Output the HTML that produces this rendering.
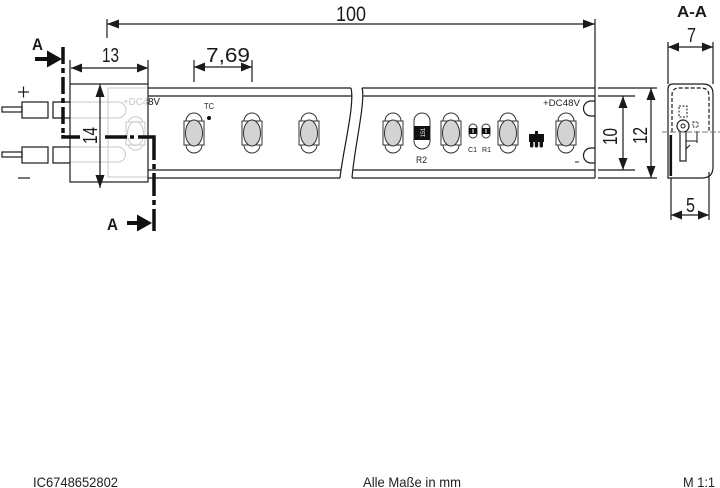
<!DOCTYPE html>
<html><head><meta charset="utf-8"><style>
html,body{margin:0;padding:0;background:#fff;}
svg{display:block;}
</style></head><body>
<svg width="720" height="488" viewBox="0 0 720 488" xmlns="http://www.w3.org/2000/svg" font-family="'Liberation Sans', Arial, sans-serif">
<defs>
  <g id="led">
    <path d="M-8,-12 A8,8 0 0 1 8,-12" fill="#fff" stroke="#333" stroke-width="1"/>
    <path d="M-8,12 A8,8 0 0 0 8,12" fill="#fff" stroke="#333" stroke-width="1"/>
    <rect x="-10" y="-12" width="20" height="24" fill="#fff" stroke="#333" stroke-width="1"/>
    <ellipse cx="0" cy="0" rx="8.5" ry="13" fill="#d3d3d3" stroke="#333" stroke-width="1"/>
  </g>
  <clipPath id="darkclip"><rect x="148" y="90" width="20" height="20"/></clipPath>
</defs>

<g stroke="#1a1a1a" stroke-width="1.2" fill="none">
  <!-- 100 dim -->
  <line x1="107" y1="24" x2="595" y2="24"/>
  <line x1="107" y1="19" x2="107" y2="38"/>
  <line x1="595" y1="19" x2="595" y2="178"/>
  <!-- 13 dim -->
  <line x1="71" y1="68" x2="148" y2="68"/>
  <line x1="70" y1="60" x2="70" y2="84"/>
  <line x1="148" y1="60" x2="148" y2="84"/>
  <!-- 7,69 dim -->
  <line x1="194" y1="67" x2="252" y2="67"/>
  <line x1="194" y1="60" x2="194" y2="82"/>
  <line x1="252" y1="60" x2="252" y2="82"/>
  <!-- 10 & 12 dims -->
  <line x1="623" y1="96" x2="623" y2="170"/>
  <line x1="598" y1="96" x2="635" y2="96"/>
  <line x1="598" y1="170" x2="635" y2="170"/>
  <line x1="651" y1="88" x2="651" y2="178"/>
  <line x1="598" y1="88" x2="657" y2="88"/>
  <line x1="598" y1="178" x2="657" y2="178"/>
  <!-- 7 dim -->
  <line x1="668" y1="47" x2="713" y2="47"/>
  <line x1="668" y1="42" x2="668" y2="84"/>
  <line x1="713" y1="42" x2="713" y2="84"/>
  <!-- 5 dim -->
  <line x1="671" y1="215" x2="709" y2="215"/>
  <line x1="671" y1="178" x2="671" y2="220"/>
  <line x1="709" y1="172" x2="709" y2="220"/>

  <!-- strip left piece -->
  <line x1="148" y1="88" x2="351" y2="88"/>
  <line x1="148" y1="96" x2="352.5" y2="96"/>
  <line x1="148" y1="170" x2="341.5" y2="170"/>
  <line x1="148" y1="178" x2="340" y2="178"/>
  <path d="M351,88 C355,105 343,150 340,178"/>
  <!-- strip right piece -->
  <path d="M362,88 C366,100 354,150 352,178"/>
  <line x1="362" y1="88" x2="595" y2="88"/>
  <line x1="363.5" y1="96" x2="595" y2="96"/>
  <line x1="353.5" y1="170" x2="595" y2="170"/>
  <line x1="352" y1="178" x2="595" y2="178"/>
  <!-- notches -->
  <path d="M595,101 H591 A7.5,7.5 0 0 0 591,116 H595"/>
  <path d="M595,148 H591 A7.5,7.5 0 0 0 591,163 H595"/>
</g>

<!-- arrowheads -->
<g fill="#1a1a1a">
  <polygon points="107,24 119,19.5 119,28.5"/>
  <polygon points="595,24 583,19.5 583,28.5"/>
  <polygon points="71,68 82,63.5 82,72.5"/>
  <polygon points="148,68 137,63.5 137,72.5"/>
  <polygon points="194,67 205,62.5 205,71.5"/>
  <polygon points="252,67 241,62.5 241,71.5"/>
  <polygon points="100,84 95.5,97 104.5,97"/>
  <polygon points="100,188 95.5,175 104.5,175"/>
  <polygon points="623,96 618.5,108 627.5,108"/>
  <polygon points="623,170 618.5,158 627.5,158"/>
  <polygon points="651,88 646.5,100 655.5,100"/>
  <polygon points="651,178 646.5,166 655.5,166"/>
  <polygon points="668,47 679,42.5 679,51.5"/>
  <polygon points="713,47 702,42.5 702,51.5"/>
  <polygon points="671,215 682,210.5 682,219.5"/>
  <polygon points="709,215 698,210.5 698,219.5"/>
</g>

<!-- connector box faint internals -->
<g stroke="#c8c8c8" stroke-width="1" fill="none">
  <rect x="108" y="88" width="40" height="89"/>
  <path d="M70,102 H118 A8,8 0 0 1 118,118 H70"/>
  <path d="M70,147 H118 A7.5,7.5 0 0 1 118,162 H70"/>
  <path d="M128,122 A8,8 0 0 1 143,122"/>
  <path d="M128,145 A8,8 0 0 0 143,145"/>
  <rect x="126" y="122" width="19" height="23"/>
  <ellipse cx="135.5" cy="133.5" rx="8" ry="12"/>
</g>
<text x="123" y="105" font-size="10" fill="#c8c8c8" textLength="37" lengthAdjust="spacingAndGlyphs">+DC48V</text>
<text x="123" y="105" font-size="10" fill="#222" textLength="37" lengthAdjust="spacingAndGlyphs" clip-path="url(#darkclip)">+DC48V</text>

<!-- connector box -->
<rect x="70" y="84" width="78" height="98" fill="none" stroke="#1a1a1a" stroke-width="1.2"/>
<line x1="100" y1="84" x2="100" y2="188" stroke="#1a1a1a" stroke-width="1.2"/>

<!-- wires -->
<g stroke="#1a1a1a" stroke-width="1.2" fill="none">
  <rect x="2" y="107" width="20" height="5"/>
  <rect x="22" y="102" width="26" height="16"/>
  <path d="M70,102 H53 V118 H70"/>
  <rect x="2" y="152" width="20" height="5"/>
  <rect x="22" y="147" width="26" height="16"/>
  <path d="M70,147 H53 V163 H70"/>
  <line x1="18" y1="92" x2="29" y2="92"/>
  <line x1="23.5" y1="86.5" x2="23.5" y2="97.5"/>
  <line x1="18" y1="178" x2="30" y2="178"/>
</g>

<!-- section line A -->
<g stroke="#111" stroke-width="3.5" fill="none" stroke-linecap="butt">
  <path d="M63,47 V137" stroke-dasharray="17,4,5,4"/>
  <path d="M63,135 V137 H80"/>
  <line x1="105" y1="137" x2="127" y2="137"/>
  <line x1="130" y1="137" x2="134" y2="137"/>
  <path d="M138,137 H154 V160"/>
  <line x1="154" y1="164" x2="154" y2="169"/>
  <line x1="154" y1="173" x2="154" y2="196"/>
  <line x1="154" y1="200" x2="154" y2="205"/>
  <line x1="154" y1="209" x2="154" y2="231"/>
  <line x1="35" y1="59" x2="49" y2="59" stroke-width="4"/>
  <line x1="127" y1="223" x2="139" y2="223" stroke-width="4"/>
</g>
<g fill="#111">
  <polygon points="47,50.5 62,59 47,67.5"/>
  <polygon points="137,214.5 152,223 137,231.5"/>
</g>
<text x="32" y="50" font-size="17" font-weight="bold" fill="#1a1a1a" textLength="11" lengthAdjust="spacingAndGlyphs">A</text>
<text x="107" y="230" font-size="17" font-weight="bold" fill="#1a1a1a" textLength="11" lengthAdjust="spacingAndGlyphs">A</text>

<!-- LEDs -->
<use href="#led" x="194" y="133"/>
<use href="#led" x="252" y="133"/>
<use href="#led" x="309" y="133"/>
<use href="#led" x="393" y="133"/>
<use href="#led" x="451" y="133"/>
<use href="#led" x="508" y="133"/>
<use href="#led" x="566" y="133"/>

<!-- TC -->
<text x="204" y="109" font-size="8" fill="#222" textLength="10" lengthAdjust="spacingAndGlyphs">TC</text>
<circle cx="209" cy="118" r="2" fill="#111"/>

<!-- R2 -->
<rect x="414" y="113" width="16" height="36" rx="8" fill="#fff" stroke="#333" stroke-width="1"/>
<rect x="414" y="126" width="16" height="14" fill="#111"/>
<text transform="translate(425,137) rotate(-90)" font-size="6" fill="#fff" textLength="9" lengthAdjust="spacingAndGlyphs">151</text>
<text x="416" y="163" font-size="9" fill="#222" textLength="11" lengthAdjust="spacingAndGlyphs">R2</text>

<!-- C1, R1 -->
<rect x="469" y="124" width="8" height="14" rx="4" fill="#fff" stroke="#333" stroke-width="1"/>
<rect x="469" y="128" width="8" height="6" fill="#111"/>
<line x1="473" y1="129" x2="473" y2="133" stroke="#fff" stroke-width="1"/>
<rect x="482" y="124" width="8" height="14" rx="4" fill="#fff" stroke="#333" stroke-width="1"/>
<rect x="482" y="128" width="8" height="6" fill="#111"/>
<line x1="486" y1="129" x2="486" y2="133" stroke="#fff" stroke-width="1"/>
<text x="468" y="152" font-size="7" fill="#222" textLength="9" lengthAdjust="spacingAndGlyphs">C1</text>
<text x="482" y="152" font-size="7" fill="#222" textLength="9" lengthAdjust="spacingAndGlyphs">R1</text>

<!-- IC -->
<rect x="529" y="134" width="15" height="8" fill="#111"/>
<rect x="535" y="131" width="3" height="4" fill="#111"/>
<rect x="530" y="141" width="3.4" height="6.5" rx="1.5" fill="#111"/>
<rect x="534.8" y="141" width="3.4" height="6.5" rx="1.5" fill="#111"/>
<rect x="539.6" y="141" width="3.4" height="6.5" rx="1.5" fill="#111"/>

<!-- +DC48V right -->
<text x="543" y="106" font-size="9.5" fill="#222" textLength="37" lengthAdjust="spacingAndGlyphs">+DC48V</text>
<line x1="575" y1="162" x2="579" y2="162" stroke="#222" stroke-width="1"/>

<!-- cross section A-A -->
<g stroke="#1a1a1a" stroke-width="1.2" fill="none">
  <path d="M668,178 V89 Q668,84 673,84 H703 Q713,84 713,94 V167 Q713,178 702,178 Z"/>
  <path d="M672,132 V95 Q672,88 679,88 H701 Q709,88 709,96 V132" stroke-dasharray="4,2"/>
  <rect x="679" y="106" width="8" height="11" stroke-dasharray="2,1.5" stroke-width="1"/>
  <rect x="693" y="122" width="5" height="5" stroke-dasharray="1.5,1.2" stroke-width="1"/>
  <rect x="680" y="131" width="6" height="30" fill="#fff"/>
  <circle cx="683" cy="126" r="6" fill="#fff"/>
  <circle cx="683" cy="126" r="2" stroke-width="1"/>
  <path d="M686,141 H697 M697,131 V143 M686,149 L690,145" stroke-width="1"/>
</g>
<line x1="662" y1="132" x2="720" y2="132" stroke="#777" stroke-width="0.9" stroke-dasharray="6,2"/>
<rect x="669.5" y="135" width="2.6" height="41" fill="#111"/>

<!-- dimension texts -->
<g fill="#1a1a1a" font-size="21">
  <text x="336" y="21" textLength="30" lengthAdjust="spacingAndGlyphs">100</text>
  <text x="102" y="62" font-size="20" textLength="17" lengthAdjust="spacingAndGlyphs">13</text>
  <text x="206" y="62" font-size="20" textLength="44" lengthAdjust="spacingAndGlyphs">7,69</text>
  <text transform="translate(97,144) rotate(-90)" font-size="20" textLength="17" lengthAdjust="spacingAndGlyphs">14</text>
  <text transform="translate(617,145) rotate(-90)" font-size="20" textLength="17" lengthAdjust="spacingAndGlyphs">10</text>
  <text transform="translate(647,144) rotate(-90)" font-size="20" textLength="17" lengthAdjust="spacingAndGlyphs">12</text>
  <text x="687" y="42" font-size="20" textLength="9" lengthAdjust="spacingAndGlyphs">7</text>
  <text x="686" y="212" font-size="20" textLength="9" lengthAdjust="spacingAndGlyphs">5</text>
  <text x="677" y="17" font-size="16" font-weight="bold" textLength="30" lengthAdjust="spacingAndGlyphs">A-A</text>
</g>

<!-- footer -->
<g fill="#222" font-size="14">
  <text x="33" y="487" textLength="85" lengthAdjust="spacingAndGlyphs">IC6748652802</text>
  <text x="363" y="487" textLength="98" lengthAdjust="spacingAndGlyphs">Alle Maße in mm</text>
  <text x="683" y="487" textLength="32" lengthAdjust="spacingAndGlyphs">M 1:1</text>
</g>
</svg>
</body></html>
